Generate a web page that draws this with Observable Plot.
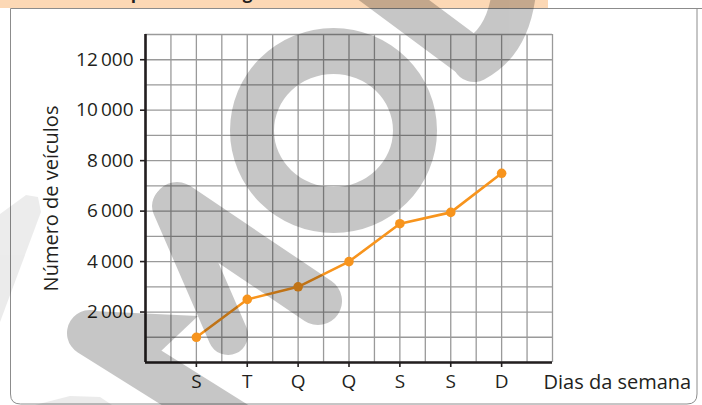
<!DOCTYPE html>
<html>
<head>
<meta charset="utf-8">
<script src="https://cdn.jsdelivr.net/npm/d3@7"></script>
<script src="https://cdn.jsdelivr.net/npm/@observablehq/plot@0.6"></script>
<style>
  html, body { margin: 0; padding: 0; background: #fff; }
  #wrap { position: relative; width: 702px; height: 405px; overflow: hidden; font-family: "Open Sans", sans-serif; }
  #wrap > svg.deco { position: absolute; left: 0; top: 0; pointer-events: none; }
</style>
</head>
<body>
<div id="wrap"></div>
<script>
// ---- data ----
const days = ["S", "T", "Q", "Q", "S", "S", "D"];
const vehicles = [1000, 2500, 3000, 4000, 5500, 5950, 7500];
const yTicks = [2000, 4000, 6000, 8000, 10000, 12000];
const yLabel = "Número de veículos";
const xLabel = "Dias da semana";
const titleText = "Pesquisa de tráfego";

const rows = days.map((d, i) => ({ idx: i + 1, day: d, value: vehicles[i] }));
const xGrid = d3.range(0, 8.001, 0.5);
const yGrid = d3.range(0, 13001, 1000);
const fmt = v => d3.format(",")(v).replace(",", "\u2009");

const ink = "#231f20";
const orange = "#f7941d";

const chart = Plot.plot({
  width: 702,
  height: 405,
  marginLeft: 145,
  marginRight: 150,
  marginTop: 34,
  marginBottom: 43,
  style: { fontFamily: "Open Sans", fontSize: "19px", color: ink, background: "transparent", overflow: "visible" },
  x: { type: "linear", domain: [0, 8] },
  y: { type: "linear", domain: [0, 13000] },
  marks: [
    Plot.ruleX(xGrid, { x: d => d, y1: 0, y2: 13000, stroke: "#9a9a9a", strokeWidth: 1.3 }),
    Plot.ruleY(yGrid, { y: d => d, x1: 0, x2: 8, stroke: "#9a9a9a", strokeWidth: 1.3 }),
    Plot.axisY(yTicks, { tickSize: 5, tickPadding: 7, tickFormat: fmt, label: null, stroke: ink, strokeWidth: 1.6, fill: ink }),
    Plot.axisX([1, 2, 3, 4, 5, 6, 7], { tickSize: 5, tickPadding: 7, tickFormat: i => days[i - 1], label: null, stroke: ink, strokeWidth: 1.6, fill: ink }),
    Plot.ruleX([0], { y1: 0, y2: 13000, stroke: ink, strokeWidth: 2.6 }),
    Plot.ruleY([0], { x1: 0, x2: 8, stroke: ink, strokeWidth: 2.6 }),
    Plot.line(rows, { x: "idx", y: "value", stroke: orange, strokeWidth: 2.6 }),
    Plot.dot(rows, { x: "idx", y: "value", r: 4.8, fill: orange }),
    Plot.text([yLabel], { text: d => d, frameAnchor: "left", rotate: -90, dx: -88, lineAnchor: "bottom", textAnchor: "middle", fill: ink, fontSize: 20 }),
    Plot.text([xLabel], { text: d => d, frameAnchor: "bottom-right", dx: -9, dy: 26, lineAnchor: "bottom", textAnchor: "start", fill: ink, fontSize: 20 })
  ]
});
document.getElementById("wrap").appendChild(chart);

// ---- decorative overlay: banner, frame and watermark ----
const ns = "http://www.w3.org/2000/svg";
const deco = document.createElementNS(ns, "svg");
deco.setAttribute("class", "deco");
deco.setAttribute("width", 702);
deco.setAttribute("height", 405);
deco.innerHTML = `
  <defs><clipPath id="bannerClip"><rect x="0" y="0" width="548" height="8"/></clipPath></defs>
  <rect x="0" y="0" width="548" height="8" fill="#fcd8b5"/>
  <g clip-path="url(#bannerClip)">
    <text x="96" y="-1" font-family="Open Sans" font-weight="bold" font-size="17" fill="${ink}">${titleText}</text>
  </g>
  <path d="M10.5,8.5 H702 M10.5,8.5 V394 Q10.5,404 20.5,404 H687 Q697,404 697,394 V8.5" fill="none" stroke="#8c8c8c" stroke-width="1"/>
  <g opacity="0.075" fill="#000">
    <polygon points="0,214 26,195 38,197 41,212 0,322"/>
    <polygon points="35,405 70,396 100,397 112,405"/>
  </g>
  <g opacity="0.22" fill="#000" stroke="#000">
    <path stroke="none" fill-rule="evenodd" d="M230,130.5 a103.5,102.5 0 1,0 207,0 a103.5,102.5 0 1,0 -207,0 Z M274,130.5 a59.5,56.5 0 1,0 119,0 a59.5,56.5 0 1,0 -119,0 Z"/>
    <line x1="90" y1="333" x2="430" y2="546" stroke-width="46" stroke-linecap="round"/>
    <polygon stroke="none" points="92,311 198,316 160,352 95,345"/>
    <line x1="172" y1="206" x2="228" y2="335" stroke-width="40" stroke-linecap="round"/>
    <line x1="177" y1="206" x2="318" y2="301" stroke-width="48" stroke-linecap="round"/>
    <line x1="340" y1="-40" x2="472" y2="58" stroke-width="42" stroke-linecap="round"/>
    <path d="M515,-20 Q512,40 474,60" fill="none" stroke-width="44" stroke-linecap="round"/>
  </g>
`;
document.getElementById("wrap").appendChild(deco);
</script>
</body>
</html>
